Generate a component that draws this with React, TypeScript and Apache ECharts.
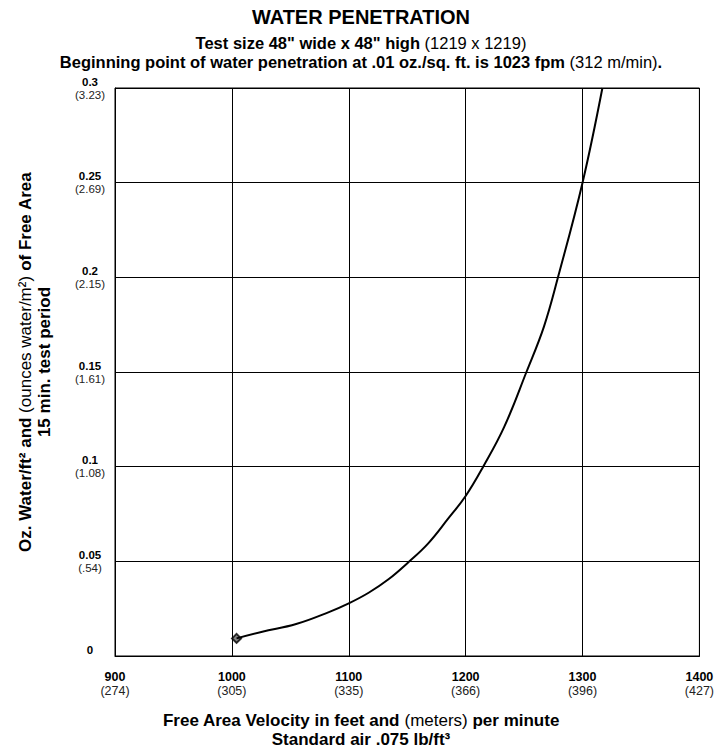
import React, { useEffect, useRef } from "react";
import * as echarts from "echarts";

const velocity = [1004, 1026, 1055, 1083, 1100, 1117, 1134, 1151, 1168, 1185, 1200, 1215, 1233, 1252, 1267, 1279, 1300, 1317];
const water = [0.0093, 0.0128, 0.0169, 0.0232, 0.0278, 0.0334, 0.0405, 0.0495, 0.0595, 0.0725, 0.0845, 0.1, 0.121, 0.15, 0.174, 0.2, 0.25, 0.3];

const xTickMain = ["900", "1000", "1100", "1200", "1300", "1400"];
const xTickMetric = ["(274)", "(305)", "(335)", "(366)", "(396)", "(427)"];
const yTickMain = ["0", "0.05", "0.1", "0.15", "0.2", "0.25", "0.3"];
const yTickMetric = [" ", "(.54)", "(1.08)", "(1.61)", "(2.15)", "(2.69)", "(3.23)"];

const FONT = "'Liberation Sans', Arial, Helvetica, sans-serif";

export default function App() {
  const ref = useRef<HTMLDivElement>(null);
  useEffect(() => {
    if (!ref.current) return;
    const chart = echarts.init(ref.current, null, { renderer: "svg" });
    const lineData = velocity.map((v, i) => [v, water[i]]);
    const textRich = (size: number, lh: number) => ({
      b: { fontFamily: FONT, fontSize: size, fontWeight: "bold", color: "#000", lineHeight: lh },
      n: { fontFamily: FONT, fontSize: size, color: "#222", lineHeight: lh },
    });
    chart.setOption({
      animation: false,
      backgroundColor: "#fff",
      grid: { left: 115, right: 15, top: 88, bottom: 92, show: true, borderColor: "#000", borderWidth: 1 },
      xAxis: {
        type: "value",
        min: 900,
        max: 1400,
        interval: 100,
        axisLine: { show: true, lineStyle: { color: "#000", width: 1 } },
        axisTick: { show: false },
        splitLine: { show: true, lineStyle: { color: "#000", width: 1 } },
        axisLabel: {
          margin: 14,
          align: "center",
          formatter: (_v: number, i: number) => `{b|${xTickMain[i]}}\n{n|${xTickMetric[i]}}`,
          rich: textRich(12.5, 14),
        },
      },
      yAxis: {
        type: "value",
        min: 0,
        max: 0.3,
        interval: 0.05,
        axisLine: { show: true, lineStyle: { color: "#000", width: 1 } },
        axisTick: { show: false },
        splitLine: { show: true, lineStyle: { color: "#000", width: 1 } },
        axisLabel: {
          margin: 25,
          align: "center",
          formatter: (_v: number, i: number) => `{b|${yTickMain[i]}}\n{n|${yTickMetric[i]}}`,
          rich: {
            b: { fontFamily: FONT, fontSize: 11.5, fontWeight: "bold", color: "#000", lineHeight: 13 },
            n: { fontFamily: FONT, fontSize: 11.5, color: "#222", lineHeight: 13 },
          },
        },
      },
      series: [
        {
          type: "line",
          data: lineData,
          smooth: 0.4,
          symbol: "none",
          lineStyle: { color: "#000", width: 2 },
          clip: true,
        },
        {
          type: "scatter",
          data: [lineData[0]],
          symbol: "diamond",
          symbolSize: 9,
          itemStyle: { color: "#666", borderColor: "#000", borderWidth: 2 },
        },
      ],
      graphic: [
        {
          type: "text",
          x: 361,
          y: 17,
          style: {
            text: "WATER PENETRATION",
            font: `bold 20px ${FONT}`,
            fill: "#000",
            textAlign: "center",
            textVerticalAlign: "middle",
          },
        },
        {
          type: "text",
          x: 361,
          y: 43,
          style: {
            text: '{b|Test size 48" wide x 48" high }{n|(1219 x 1219)}',
            textAlign: "center",
            textVerticalAlign: "middle",
            rich: textRich(16.5, 19),
          },
        },
        {
          type: "text",
          x: 361,
          y: 62,
          style: {
            text: "{b|Beginning point of water penetration at .01 oz./sq. ft. is 1023 fpm }{n|(312 m/min)}{b|.}",
            textAlign: "center",
            textVerticalAlign: "middle",
            rich: textRich(16.5, 19),
          },
        },
        {
          type: "text",
          x: 361,
          y: 730,
          style: {
            text: "{b|Free Area Velocity in feet and }{n|(meters)}{b| per minute}\n{b|Standard air .075 lb/ft³}",
            textAlign: "center",
            textVerticalAlign: "middle",
            rich: textRich(17, 19),
          },
        },
        {
          type: "text",
          x: 35,
          y: 362,
          rotation: Math.PI / 2,
          style: {
            text: "{b|Oz. Water/ft² and }{n|(ounces water/m²)}{b| of Free Area}\n{b|15 min. test period}",
            textAlign: "center",
            textVerticalAlign: "middle",
            rich: textRich(17, 19),
          },
        },
      ],
    });
    return () => chart.dispose();
  }, []);
  return <div ref={ref} style={{ position: "absolute", left: 0, top: 0, width: 717, height: 748 }} />;
}
